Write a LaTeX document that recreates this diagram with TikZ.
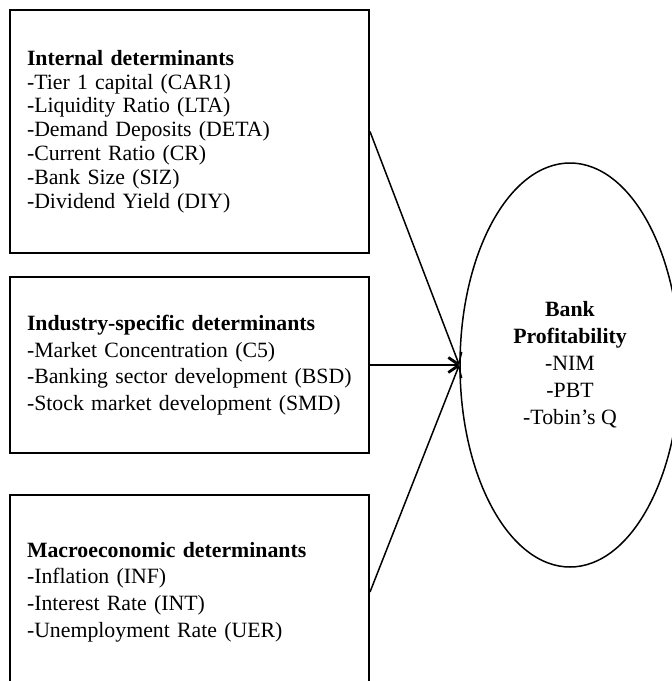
\documentclass[tikz,border=0pt]{standalone}
\usepackage{fontspec}
\setmainfont{Liberation Serif}
\usetikzlibrary{shapes.geometric,arrows.meta}

\tikzset{
  detbox/.style={draw, line width=1pt, align=left, text width=162.5pt, inner xsep=8.5pt,
    minimum width=179.5pt, font=\fontsize{10.9}{13.3}\selectfont},
  arr/.style={-{Straight Barb[length=5pt,width=7pt]}, line width=0.75pt}
}

\begin{document}
\begin{tikzpicture}[x=0.5pt, y=-0.5pt]
            \useasboundingbox (0,0) rectangle (671,681);
            \node[detbox, minimum height=121.5pt, font=\fontsize{10.9}{11.9}\selectfont] (internal) at (189.5,131.5)
              {\textbf{Internal determinants}\\-Tier 1 capital (CAR1)\\-Liquidity Ratio (LTA)\\-Demand Deposits (DETA)\\-Current Ratio (CR)\\-Bank Size (SIZ)\\-Dividend Yield (DIY)};
            \node[detbox, minimum height=88pt] (industry) at (189.5,365)
              {\textbf{Industry-specific determinants}\\-Market Concentration (C5)\\-Banking sector development (BSD)\\-Stock market development (SMD)};
            \node[detbox, minimum height=97pt] (macro) at (189.5,592)
              {\textbf{Macroeconomic determinants}\\-Inflation (INF)\\-Interest Rate (INT)\\-Unemployment Rate (UER)};
            \node[draw, ellipse, line width=0.75pt, minimum width=110pt, minimum height=202pt, inner sep=0pt,
              align=center, font=\fontsize{10.9}{13.5}\selectfont] (profit) at (570,365)
              {\textbf{Bank}\\\textbf{Profitability}\\-NIM\\-PBT\\-Tobin's Q};
            \draw[arr] (internal.east) -- (profit.west);
            \draw[arr] (industry.east) -- (profit.west);
            \draw[arr] (macro.east) -- (profit.west);
        \end{tikzpicture}
\end{document}
